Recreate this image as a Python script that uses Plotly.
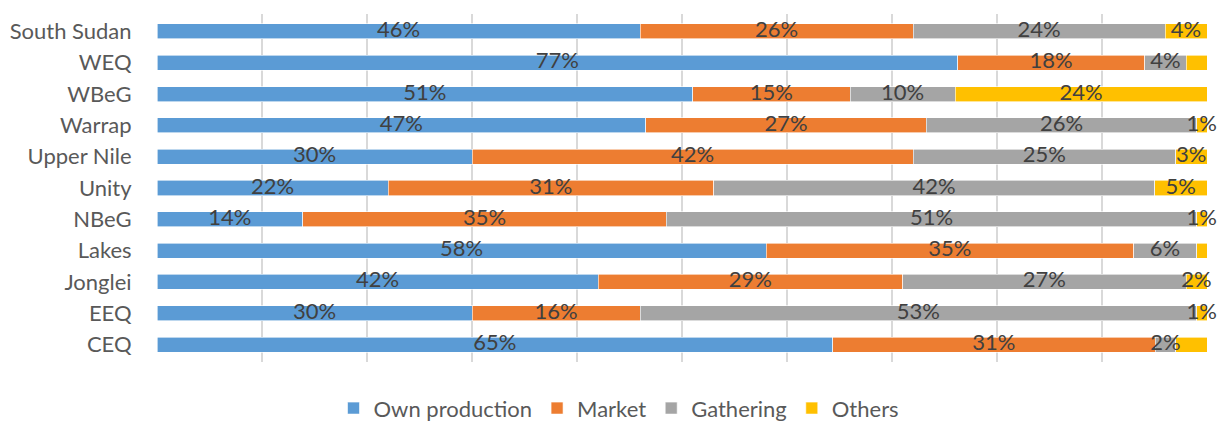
import plotly.graph_objects as go

# Food source shares by state (percent of households)
regions = ["South Sudan", "WEQ", "WBeG", "Warrap", "Upper Nile", "Unity",
           "NBeG", "Lakes", "Jonglei", "EEQ", "CEQ"]
own_production = [46, 77, 51, 47, 30, 22, 14, 58, 42, 30, 65]
market = [26, 18, 15, 27, 42, 31, 35, 35, 29, 16, 31]
gathering = [24, 4, 10, 26, 25, 42, 51, 6, 27, 53, 2]
others = [4, 2, 24, 1, 3, 5, 1, 1, 2, 1, 3]
# segments whose value label is printed
others_labelled = [True, False, True, True, True, True, True, False, True, True, False]

series = [
    ("Own production", own_production, "#5B9BD5", [True] * len(regions)),
    ("Market", market, "#ED7D31", [True] * len(regions)),
    ("Gathering", gathering, "#A5A5A5", [True] * len(regions)),
    ("Others", others, "#FFC000", others_labelled),
]

TEXT_FONT = "Lato, 'Open Sans', sans-serif"
FS = 22

fig = go.Figure()
for name, vals, color, _ in series:
    fig.add_trace(go.Bar(
        y=regions, x=vals, name=name, orientation="h",
        marker=dict(color=color, line=dict(color="white", width=0.6)),
        hoverinfo="skip",
    ))

# value labels centred on each segment of the 100 % stacked bars
totals = [sum(s[1][i] for s in series) for i in range(len(regions))]
cum = [0.0] * len(regions)
for name, vals, color, shown in series:
    xs, ys, txt = [], [], []
    for i, v in enumerate(vals):
        share = v / totals[i] * 100
        if shown[i]:
            xs.append(cum[i] + share / 2)
            ys.append(regions[i])
            txt.append(f"{v}%")
        cum[i] += share
    fig.add_trace(go.Scatter(
        x=xs, y=ys, text=txt, mode="text", showlegend=False,
        textfont=dict(family=TEXT_FONT, size=FS, color="#404040"),
        textposition="middle center", cliponaxis=False, hoverinfo="skip",
    ))

fig.update_layout(
    barmode="stack",
    barnorm="percent",
    bargap=0.52,
    width=1217, height=423,
    margin=dict(l=157, r=10, t=14, b=61, autoexpand=False),
    paper_bgcolor="white", plot_bgcolor="white",
    font=dict(family=TEXT_FONT, size=FS, color="#595959"),
    showlegend=True,
    legend=dict(orientation="h", x=0.44, xanchor="center", y=-0.133, yanchor="middle",
                font=dict(size=FS, color="#595959"), itemwidth=30, traceorder="normal"),
    xaxis=dict(range=[0, 100], dtick=10, showgrid=True, gridcolor="#D9D9D9", gridwidth=1.5,
               showticklabels=False, zeroline=False, showline=False, fixedrange=True),
    yaxis=dict(categoryorder="array", categoryarray=regions, autorange="reversed",
               showgrid=False, zeroline=False, showline=False,
               ticks="outside", ticklen=20, tickcolor="rgba(0,0,0,0)",
               tickfont=dict(size=FS, color="#595959")),
)

fig.write_html("out.html")
